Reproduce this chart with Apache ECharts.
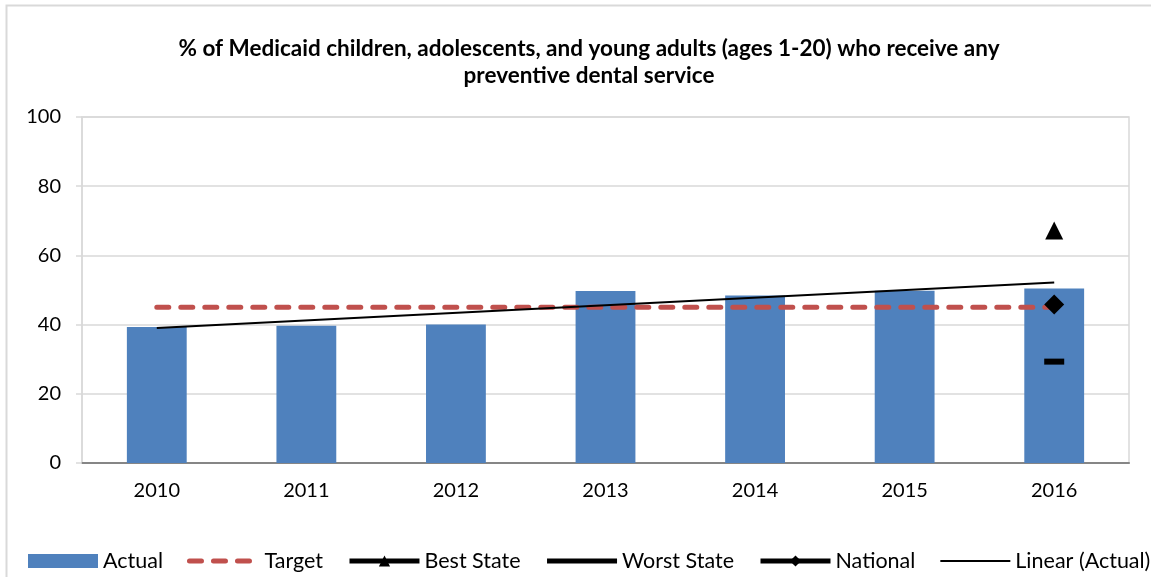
<!DOCTYPE html>
<html>
<head>
<meta charset="utf-8">
<script src="https://cdn.jsdelivr.net/npm/echarts@6/dist/echarts.min.js"></script>
<style>
  html, body { margin: 0; padding: 0; background: #fff; }
  #chart { width: 1151px; height: 577px; }
</style>
</head>
<body>
<div id="chart"></div>
<script>
// values
var years = ['2010', '2011', '2012', '2013', '2014', '2015', '2016'];
var actual = [39.3, 39.7, 40.0, 49.7, 48.4, 49.8, 50.4];
var target = [45, 45, 45, 45, 45, 45, 45];
var bestState = [null, null, null, null, null, null, 67.2];
var worstState = [null, null, null, null, null, null, 29.3];
var national = [null, null, null, null, null, null, 45.8];
// Excel trendline end points (2010 and 2016)
var linearActual = [39.0, null, null, null, null, null, 52.2];
var yTicks = [0, 20, 40, 60, 80, 100];

var font = 'Lato';
var hidden = { color: 'rgba(0,0,0,0)', borderWidth: 0 };
var chart = echarts.init(document.getElementById('chart'));

chart.setOption({
  animation: false,
  textStyle: { fontFamily: font },
  graphic: [
    {
      type: 'rect',
      shape: { x: 6.5, y: 5.5, width: 1170, height: 620 },
      style: { fill: 'none', stroke: '#d9d9d9', lineWidth: 2 },
      silent: true,
    },
  ],
  title: {
    text: '% of Medicaid children, adolescents, and young adults (ages 1-20) who receive any\npreventive dental service',
    left: 584,
    textAlign: 'center',
    top: 30,
    textStyle: {
      fontFamily: font,
      fontSize: 22.5,
      fontWeight: 'bold',
      color: '#000',
      lineHeight: 27,
    },
  },
  grid: {
    left: 82,
    right: 22,
    top: 117,
    bottom: 114,
    show: true,
    borderColor: '#d9d9d9',
    borderWidth: 1.5,
  },
  legend: {
    left: 23,
    top: 545,
    width: 1140,
    itemGap: 24,
    itemWidth: 70,
    itemHeight: 14,
    textStyle: { fontFamily: font, fontSize: 21.5, color: '#000' },
    data: [
      { name: 'Actual', icon: 'rect' },
      { name: 'Target', itemStyle: hidden, lineStyle: { width: 5 } },
      { name: 'Best State', lineStyle: { width: 5 } },
      { name: 'Worst State', itemStyle: hidden, lineStyle: { width: 5 } },
      { name: 'National', lineStyle: { width: 5 } },
      { name: 'Linear (Actual)', itemStyle: hidden, lineStyle: { width: 2 } },
    ],
  },
  xAxis: {
    type: 'category',
    data: years,
    axisLine: { lineStyle: { color: '#868686', width: 2 } },
    axisTick: { length: 6, lineStyle: { color: '#868686', width: 1.5 } },
    axisLabel: { color: '#000', fontSize: 20, margin: 18, fontFamily: font },
  },
  yAxis: {
    type: 'value',
    min: yTicks[0],
    max: yTicks[yTicks.length - 1],
    interval: 20,
    axisLine: { show: true, lineStyle: { color: '#d9d9d9', width: 1.5 } },
    axisTick: { show: true, length: 6, lineStyle: { color: '#d9d9d9', width: 1.5 } },
    axisLabel: { color: '#000', fontSize: 20, margin: 21, fontFamily: font },
    splitLine: { lineStyle: { color: '#d9d9d9', width: 1.5 } },
  },
  series: [
    {
      name: 'Actual',
      type: 'bar',
      data: actual,
      barWidth: '40%',
      itemStyle: { color: '#4f81bd' },
    },
    {
      name: 'Target',
      type: 'line',
      data: target,
      symbol: 'none',
      itemStyle: { color: '#c0504d' },
      lineStyle: { color: '#c0504d', width: 5, type: [12, 12], cap: 'round' },
    },
    {
      name: 'Linear (Actual)',
      type: 'line',
      data: linearActual,
      connectNulls: true,
      symbol: 'none',
      itemStyle: { color: '#000' },
      lineStyle: { color: '#000', width: 2 },
    },
    {
      name: 'Best State',
      type: 'line',
      data: bestState,
      symbol: 'triangle',
      symbolSize: 18,
      itemStyle: { color: '#000' },
      lineStyle: { color: '#000', width: 5 },
    },
    {
      name: 'Worst State',
      type: 'line',
      data: worstState,
      symbol: 'rect',
      symbolSize: [20, 6],
      itemStyle: { color: '#000' },
      lineStyle: { color: '#000', width: 5 },
    },
    {
      name: 'National',
      type: 'line',
      data: national,
      symbol: 'diamond',
      symbolSize: 20,
      itemStyle: { color: '#000' },
      lineStyle: { color: '#000', width: 5 },
    },
  ],
});
</script>
</body>
</html>
